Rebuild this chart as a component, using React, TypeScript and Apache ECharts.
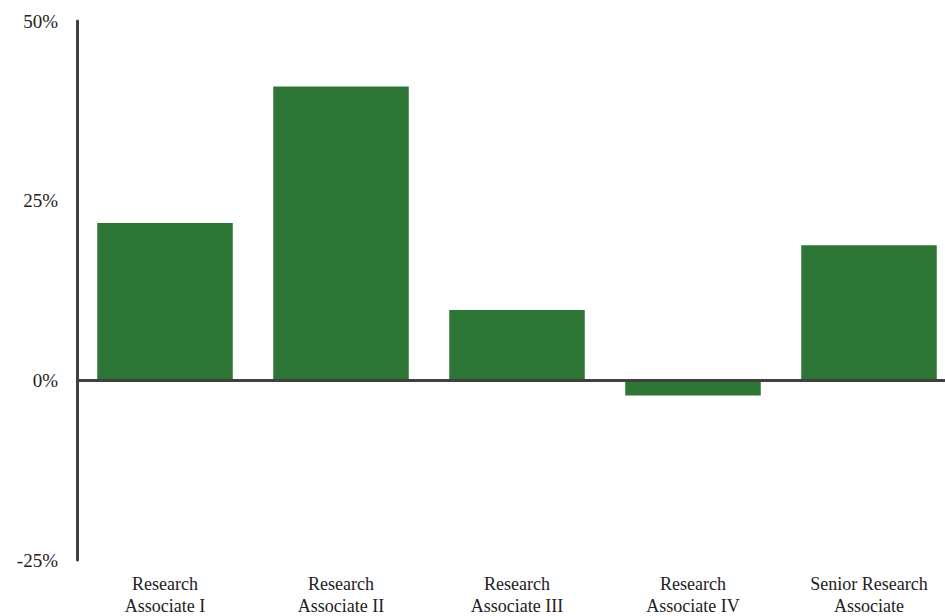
import React, { useEffect, useRef } from "react";
import * as echarts from "echarts";

const categories = [
  "Research\nAssociate I",
  "Research\nAssociate II",
  "Research\nAssociate III",
  "Research\nAssociate IV",
  "Senior Research\nAssociate",
];
const values = [21.9, 40.9, 9.8, -2.1, 18.8];
const yTicks = { min: -25, max: 50, interval: 25 };

const FONT = "serif";

export default function App() {
  const ref = useRef<HTMLDivElement>(null);
  useEffect(() => {
    const chart = echarts.init(ref.current!, null, { renderer: "svg" });
    chart.setOption({
      animation: false,
      textStyle: { fontFamily: FONT },
      grid: { left: 77, width: 880, top: 21, bottom: 56, outerBoundsMode: "none", containLabel: false },
      xAxis: {
        type: "category",
        data: categories,
        axisLine: { show: false },
        axisTick: { show: false },
        axisLabel: {
          color: "#222",
          fontFamily: FONT,
          fontSize: 18,
          lineHeight: 22,
          margin: 13,
          interval: 0,
        },
      },
      yAxis: {
        type: "value",
        min: yTicks.min,
        max: yTicks.max,
        interval: yTicks.interval,
        axisLine: { show: true, lineStyle: { color: "#404040", width: 3 } },
        axisTick: { show: false },
        splitLine: { show: false },
        axisLabel: {
          color: "#222",
          fontFamily: FONT,
          fontSize: 19,
          margin: 19,
          formatter: (v: number) => `${v}%`,
        },
      },
      series: [
        {
          type: "bar",
          data: values,
          barCategoryGap: "23%",
          itemStyle: { color: "#2e7636" },
          markLine: {
            silent: true,
            symbol: "none",
            label: { show: false },
            lineStyle: { color: "#404040", width: 3, type: "solid" },
            data: [{ yAxis: 0 }],
          },
        },
      ],
    });
    return () => chart.dispose();
  }, []);
  return <div ref={ref} style={{ width: 945, height: 616, position: "absolute", left: 0, top: 0, background: "#fff" }} />;
}
